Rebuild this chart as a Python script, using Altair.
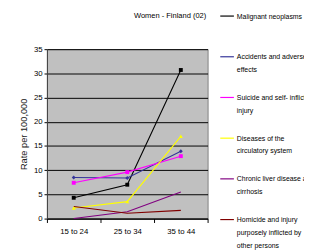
import altair as alt
import pandas as pd

ages = ["15 to 24", "25 to 34", "35 to 44"]
series = [
    "Malignant neoplasms",
    "Accidents and adverse|effects",
    "Suicide and self- inflicted|injury",
    "Diseases of the|circulatory system",
    "Chronic liver disease and|cirrhosis",
    "Homicide and injury|purposely inflicted by|other persons",
]
malignant = [4.3, 7.0, 30.7]
accidents = [8.5, 8.4, 13.9]
suicide = [7.4, 9.6, 12.9]
circulatory = [2.2, 3.5, 17.0]
liver = [0.0, 1.4, 5.5]
homicide = [2.5, 1.1, 1.7]
colors = ["#000000", "#333399", "#FF00FF", "#FFFF00", "#800080", "#800000"]
marker_shapes = ["square", "diamond", "square", "triangle-up"]
y_ticks = [0, 5, 10, 15, 20, 25, 30, 35]
title_text = "Women - Finland (02)"

rows = []
for s, vals in zip(series, [malignant, accidents, suicide, circulatory, liver, homicide]):
    for a, v in zip(ages, vals):
        rows.append({"age": a, "series": s, "rate": v})
df = pd.DataFrame(rows)

FONT = "Liberation Sans"
LABEL_DY = -3.3

x = alt.X(
    "age:N", sort=ages, bandPosition=0.5,
    scale=alt.Scale(type="band", paddingInner=0, paddingOuter=0),
    axis=alt.Axis(title=None, labelAngle=0, tickBand="extent", tickSize=4,
                  tickColor="black", domainColor="black", labelFont=FONT,
                  labelFontSize=8, labelColor="black", labelPadding=5 - LABEL_DY, grid=False),
)
y = alt.Y(
    "rate:Q", scale=alt.Scale(domain=[0, 35], nice=False),
    axis=alt.Axis(values=y_ticks, title="Rate per 100,000", grid=True, gridColor="black",
                  gridWidth=1, tickSize=3, tickColor="black", domainColor="#404040",
                  labelFont=FONT, labelFontSize=8, labelColor="black", labelPadding=2,
                  labelOffset=-LABEL_DY,
                  titleFont=FONT, titleFontSize=9.5, titleFontWeight="normal",
                  titleColor="#222222", titlePadding=5),
)

base = alt.Chart(df)

lines = base.mark_line(strokeWidth=1.1).encode(
    x=x, y=y,
    color=alt.Color(
        "series:N", scale=alt.Scale(domain=series, range=colors),
        legend=alt.Legend(title=None, orient="none", legendX=177, legendY=-42,
                          direction="vertical", symbolType="stroke", symbolSize=196,
                          symbolStrokeWidth=1.2, labelFont=FONT, labelFontSize=7.1,
                          labelColor="black", labelLimit=400, labelOffset=2,
                          labelBaseline="top", labelExpr="split(datum.label, '|')",
                          gridAlign="all", rowPadding=3.8, padding=0),
    ),
)

points = base.transform_filter(
    alt.FieldOneOfPredicate(field="series", oneOf=series[:4])
).mark_point(filled=True, size=16, opacity=1).encode(
    x=x, y=y,
    color=alt.Color("series:N", scale=alt.Scale(domain=series, range=colors), legend=None),
    shape=alt.Shape("series:N", scale=alt.Scale(domain=series[:4], range=marker_shapes), legend=None),
)

chart = alt.layer(lines, points, title=title_text).properties(
    width=165, height=174,
    padding={"left": 40, "top": 39, "right": 99, "bottom": 30},
    autosize=alt.AutoSizeParams(type="none"),
    background="white",
).configure(
    view={"fill": "#C0C0C0", "stroke": "#808080", "strokeWidth": 1},
    style={"guide-label": {"lineHeight": 13, "dy": LABEL_DY}},
    title={"anchor": "middle", "dx": 44, "offset": -12, "font": FONT, "fontSize": 7.7,
           "fontWeight": "normal", "color": "black", "frame": "group"},
)

chart.save("out.html", embed_options={"renderer": "svg", "actions": False})
